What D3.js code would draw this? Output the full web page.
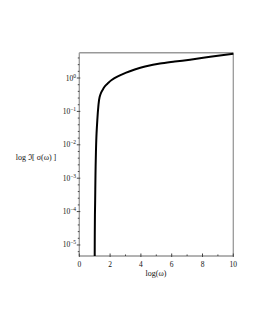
<!DOCTYPE html>
<html><head><meta charset="utf-8">
<script src="https://cdn.jsdelivr.net/npm/d3@7"></script>
<style>body{margin:0;background:#fff}svg{display:block}text{font-family:"Liberation Serif","DejaVu Serif",serif;fill:#111}</style>
</head><body><svg id="c" width="255" height="330"></svg>
<script>
// curve samples: x = log(omega), y = Im[sigma(omega)]
const xVals = [1.0, 1.005, 1.015, 1.03, 1.05, 1.08, 1.12, 1.17, 1.23, 1.32, 1.41, 1.55, 1.67, 1.85, 2.1, 2.5, 2.97, 3.6, 4.27, 5.24, 6.2, 7.19, 8.5, 10.0];
const yVals = [4.7e-6, 2e-5, 8e-5, 2.2e-4, 1.2e-3, 6e-3, 0.022, 0.055, 0.13, 0.27, 0.36, 0.47, 0.57, 0.69, 0.87, 1.12, 1.4, 1.8, 2.2, 2.7, 3.1, 3.55, 4.3, 5.35];
const xTicks = [0, 2, 4, 6, 8, 10];
const xMinor = [1, 3, 5, 7, 9];
const yExps = [0, -1, -2, -3, -4, -5];

const svg = d3.select("#c");
const L = 79.3, R = 233.3, T = 52.7, B = 256;
const x = d3.scaleLinear().domain([0, 10]).range([L, R]);
const y = d3.scaleLog().domain([Math.pow(10, -5.33), Math.pow(10, 0.758)]).range([B, T]);

// frame
svg.append("line").attr("x1", L).attr("x2", R).attr("y1", T).attr("y2", T).attr("stroke", "#999").attr("stroke-width", 1.6);
svg.append("line").attr("x1", R).attr("x2", R).attr("y1", T).attr("y2", B).attr("stroke", "#999").attr("stroke-width", 1.3);
svg.append("line").attr("x1", L).attr("x2", L).attr("y1", T).attr("y2", B).attr("stroke", "#999").attr("stroke-width", 1.3);
svg.append("line").attr("x1", L).attr("x2", R).attr("y1", B).attr("y2", B).attr("stroke", "#666").attr("stroke-width", 1);

// x ticks
const gx = svg.append("g");
xTicks.forEach(v => {
  gx.append("line").attr("x1", x(v)).attr("x2", x(v)).attr("y1", B - 2.5).attr("y2", B + 1).attr("stroke", "#444");
  gx.append("text").attr("x", x(v)).attr("y", 267).attr("text-anchor", "middle").attr("font-size", 7.5).text(v);
});
xMinor.forEach(v => {
  gx.append("line").attr("x1", x(v)).attr("x2", x(v)).attr("y1", B - 1.5).attr("y2", B).attr("stroke", "#444");
});

// y ticks
const gy = svg.append("g");
yExps.forEach(e => {
  const yy = y(Math.pow(10, e));
  gy.append("line").attr("x1", L - 2.5).attr("x2", L + 1).attr("y1", yy).attr("y2", yy).attr("stroke", "#444");
  const t = gy.append("text").attr("x", 76).attr("y", yy + 2.5).attr("text-anchor", "end").attr("font-size", 7.5);
  t.append("tspan").text("10");
  t.append("tspan").attr("dy", -3).attr("font-size", 5.5).text(e === 0 ? "0" : "\u2212" + (-e));
});
for (let e = -6; e <= 0; e++) {
  [0.2, 0.4, 0.6, 0.8].forEach(f => {
    const v = Math.pow(10, e + f);
    if (v < y.domain()[0] || v > y.domain()[1]) return;
    const yy = y(v);
    gy.append("line").attr("x1", L - 1.5).attr("x2", L).attr("y1", yy).attr("y2", yy).attr("stroke", "#444");
  });
}

// curve
const data = xVals.map((v, i) => [v, yVals[i]]);
const lineGen = d3.line().x(d => x(d[0])).y(d => y(d[1])).curve(d3.curveMonotoneY);
svg.append("path").datum(data)
  .attr("fill", "none").attr("stroke", "#000").attr("stroke-width", 2)
  .attr("d", lineGen);

// axis labels
svg.append("text").attr("x", 156).attr("y", 276).attr("text-anchor", "middle").attr("font-size", 8).text("log(\u03c9)");
svg.append("text").attr("x", 36).attr("y", 160).attr("text-anchor", "middle").attr("font-size", 8).text("log \u2111[ \u03c3(\u03c9) ]");
</script></body></html>
